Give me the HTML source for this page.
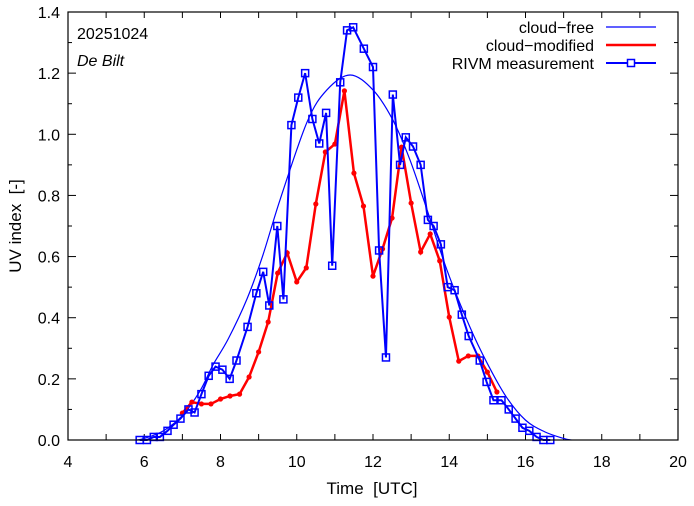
<!DOCTYPE html>
<html><head><meta charset="utf-8"><style>
body{margin:0;background:#fff}
svg text{font-family:"Liberation Sans",sans-serif;fill:#000}
</style></head><body>
<svg id="chart" width="694" height="501" xmlns="http://www.w3.org/2000/svg"></svg>
<script>
const clearTimes=[5.8,6,6.5,7,7.46,7.8,8.2,8.69,9.1,9.56,10.27,10.79,11.4,12.0,12.52,12.97,13.42,13.94,14.54,15,15.5,16,16.5,17,17.2];
const clearVals=[0,0.005,0.03,0.08,0.16,0.245,0.33,0.46,0.6,0.785,1.04,1.145,1.194,1.145,1.047,0.916,0.752,0.556,0.37,0.25,0.14,0.065,0.027,0.005,0];
const modStart=7.0, modStep=0.25;
const modVals=[0.088,0.124,0.118,0.118,0.134,0.144,0.150,0.206,0.288,0.386,0.546,0.612,0.517,0.563,0.772,0.942,0.968,1.142,0.873,0.765,0.536,0.625,0.726,0.958,0.775,0.615,0.674,0.586,0.402,0.258,0.275,0.275,0.222,0.157];
const measTimes=[5.88,6.07,6.25,6.41,6.61,6.77,6.95,7.16,7.32,7.50,7.69,7.87,8.05,8.24,8.42,8.71,8.94,9.12,9.28,9.49,9.65,9.86,10.04,10.22,10.41,10.59,10.77,10.93,11.14,11.32,11.48,11.76,12.00,12.16,12.34,12.52,12.71,12.86,13.05,13.25,13.44,13.59,13.78,13.96,14.14,14.33,14.51,14.80,14.98,15.16,15.37,15.56,15.74,15.92,16.10,16.29,16.47,16.65];
const measVals=[0,0,0.01,0.01,0.03,0.05,0.07,0.10,0.09,0.15,0.21,0.24,0.23,0.20,0.26,0.37,0.48,0.55,0.44,0.70,0.46,1.03,1.12,1.20,1.05,0.97,1.07,0.57,1.17,1.34,1.35,1.28,1.22,0.62,0.27,1.13,0.90,0.99,0.96,0.90,0.72,0.70,0.64,0.50,0.49,0.41,0.34,0.26,0.19,0.13,0.13,0.10,0.07,0.04,0.03,0.01,0,0];
const xTicks=[4,6,8,10,12,14,16,18,20];
const yTicks=[0,0.2,0.4,0.6,0.8,1.0,1.2,1.4];

const L=68,R=678,T=12,B=440;
const X=t=>L+(t-4)/16*(R-L);
const Y=v=>B-v/1.4*(B-T);
const svg=document.getElementById('chart');
const NS='http://www.w3.org/2000/svg';
function mk(tag,attrs,parent){const e=document.createElementNS(NS,tag);for(const k in attrs)e.setAttribute(k,attrs[k]);(parent||svg).appendChild(e);return e;}

for(let h=4;h<=20;h++){
  const t1=mk('line',{x1:X(h),x2:X(h),y1:B,y2:B-6,stroke:'#000'});
  
  
  mk('line',{x1:X(h),x2:X(h),y1:T,y2:T+6,stroke:'#000'});
}
xTicks.forEach(h=>{
  const tx=mk('text',{x:X(h),y:467,'text-anchor':'middle','font-size':16});
  tx.textContent=h;
  
  
});
for(let i=0;i<=14;i++){
  const v=i/10, len=(i%2===0)?8:4;
  mk('line',{x1:L,x2:L+len,y1:Y(v),y2:Y(v),stroke:'#000'});
  mk('line',{x1:R,x2:R-len,y1:Y(v),y2:Y(v),stroke:'#000'});
}
yTicks.forEach(v=>{
  const tx=mk('text',{x:L-8,y:Y(v)+6,'text-anchor':'end','font-size':16});
  tx.textContent=v.toFixed(1);
  
  
});

function smooth(pts){let d=`M${pts[0][0]},${pts[0][1]}`;for(let i=0;i<pts.length-1;i++){const p0=pts[Math.max(0,i-1)],p1=pts[i],p2=pts[i+1],p3=pts[Math.min(pts.length-1,i+2)];d+=` C${p1[0]+(p2[0]-p0[0])/6},${p1[1]+(p2[1]-p0[1])/6} ${p2[0]-(p3[0]-p1[0])/6},${p2[1]-(p3[1]-p1[1])/6} ${p2[0]},${p2[1]}`;}return d;}
const cf=mk('path',{d:smooth(clearTimes.map((t,i)=>[X(t),Y(clearVals[i])])),fill:'none',stroke:'#0000ff','stroke-width':1.2});



const mp=modVals.map((v,i)=>[X(modStart+i*modStep),Y(v)]);
const ml=mk('polyline',{points:mp.map(p=>p.join(',')).join(' '),fill:'none',stroke:'#ff0000','stroke-width':2.5});


mp.forEach(p=>{const c=mk('circle',{cx:p[0],cy:p[1],r:2.6,fill:'#ff0000'});
  
  });

const sp=measVals.map((v,i)=>[X(measTimes[i]),Y(v)]);
const sl=mk('polyline',{points:sp.map(p=>p.join(',')).join(' '),fill:'none',stroke:'#0000ff','stroke-width':2});


sp.forEach(p=>{const r=mk('rect',{x:p[0]-3.5,y:p[1]-3.5,width:7,height:7,fill:'none',stroke:'#0000ff','stroke-width':1.5});
  
  });

const fr=mk('rect',{x:L,y:T,width:R-L,height:B-T,fill:'none',stroke:'#000','stroke-width':1.2});



const leg=[['cloud\u2212free',27,'#0000ff',1.2,false],['cloud\u2212modified',45,'#ff0000',2.5,false],['RIVM measurement',63,'#0000ff',2,true]];
leg.forEach(e=>{
  const t=mk('text',{x:594,y:e[1]+6,'text-anchor':'end','font-size':16});t.textContent=e[0];
  
  
  mk('line',{x1:606,x2:656,y1:e[1],y2:e[1],stroke:e[2],'stroke-width':e[3]});
  if(e[4])mk('rect',{x:627.5,y:e[1]-3.5,width:7,height:7,fill:'#fff',stroke:'#0000ff','stroke-width':1.5});
});

const d1=mk('text',{x:77,y:39,'font-size':16});d1.textContent='20251024';


const d2=mk('text',{x:77,y:66,'font-size':16,'font-style':'italic'});d2.textContent='De Bilt';


const xt=mk('text',{x:372,y:494,'text-anchor':'middle','font-size':17,style:'white-space:pre'});xt.textContent='Time  [UTC]';


const yt=mk('text',{x:0,y:0,'text-anchor':'middle','font-size':17,style:'white-space:pre',transform:'translate(21,226) rotate(-90)'});yt.textContent='UV index  [-]';


</script>
</body></html>
